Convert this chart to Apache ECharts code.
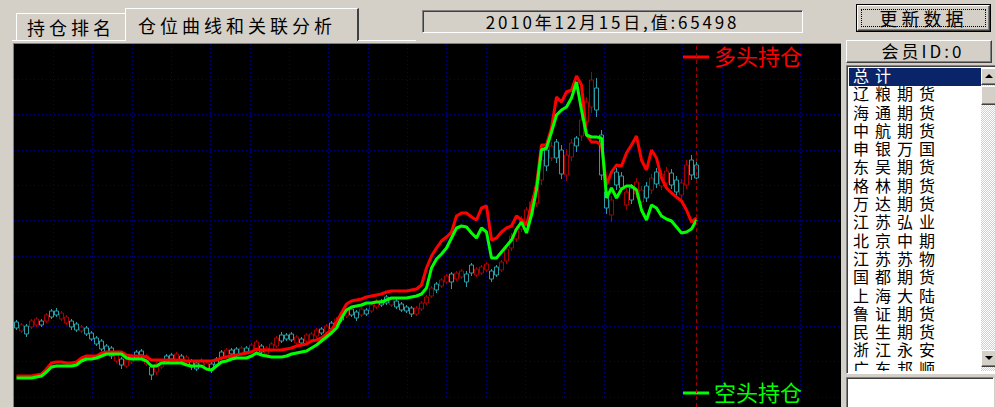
<!DOCTYPE html>
<html><head><meta charset="utf-8">
<script src="https://cdn.jsdelivr.net/npm/echarts@6/dist/echarts.min.js"></script>
<style>
html,body{margin:0;padding:0}
body{width:995px;height:407px;overflow:hidden;background:#d4d0c8;font-family:"Noto Sans CJK SC",sans-serif;position:relative;color:#000}
.a{position:absolute;box-sizing:border-box}
.raised{border-top:1px solid #fff;border-left:1px solid #fff;border-right:1px solid #404040;border-bottom:1px solid #404040;box-shadow:inset -1px -1px 0 #808080}
.sunken{border-top:1px solid #808080;border-left:1px solid #808080;border-right:1px solid #fff;border-bottom:1px solid #fff;box-shadow:inset 1px 1px 0 #404040}
.tab{font-size:18px;letter-spacing:4px;line-height:24px;white-space:nowrap}
#list div{height:18.3px;line-height:18.3px;font-family:"Liberation Sans","Noto Sans CJK SC",sans-serif;font-size:16px;letter-spacing:6px;padding-left:4px;white-space:nowrap;overflow:visible}
#list .sel{background:#0a246a;color:#fff}
.arrow{width:0;height:0;border-left:4px solid transparent;border-right:4px solid transparent;position:absolute;left:3px}
</style></head>
<body>
<!-- tabs -->
<div class="a tab" style="left:16px;top:13px;width:111px;height:28px;border-top:1px solid #fff;border-left:1px solid #fff;border-right:1px solid #404040;padding:1px 0 0 10px">持仓排名</div>
<div class="a tab" style="left:125px;top:8px;width:234px;height:33px;border-top:1px solid #fff;border-left:1px solid #fff;border-right:2px solid #404040;background:#d4d0c8;padding:4px 0 0 12px">仓位曲线和关联分析</div>
<div class="a" style="left:12px;top:40px;width:114px;height:1px;background:#fff"></div>
<div class="a" style="left:358px;top:40px;width:58px;height:1px;background:#fff"></div>
<!-- date box -->
<div class="a sunken" style="left:422px;top:10px;width:381px;height:23px;font-size:17px;letter-spacing:2.8px;line-height:21px;text-align:center;white-space:nowrap">2010年12月15日,值:65498</div>
<!-- button -->
<div class="a" style="left:856px;top:4px;width:135px;height:28px;border:1px solid #000;">
  <div class="a raised" style="left:0;top:0;width:133px;height:26px;"></div>
  <div class="a" style="left:4px;top:4px;width:125px;height:18px;border:1px dotted #000;font-size:18px;letter-spacing:4px;line-height:17px;text-align:center;white-space:nowrap">更新数据</div>
</div>
<!-- chart -->
<div class="a" style="left:13px;top:43px;width:828px;height:364px;border-left:1px solid #808080;border-top:1px solid #808080;background:#000"></div>
<div id="chart" class="a" style="left:14px;top:44px;width:826px;height:363px;"></div>
<!-- right panel -->
<div class="a raised" style="left:846px;top:40px;width:146px;height:23px;font-size:17px;letter-spacing:3px;line-height:20px;text-align:center;white-space:nowrap;padding-left:8px">会员ID:0</div>
<div class="a sunken" style="left:846px;top:65px;width:152px;height:309px;background:#fff;overflow:hidden">
  <div id="list" class="a" style="left:2px;top:2px;width:132px;height:303px;overflow:hidden"></div>
  <div class="a" style="left:134px;top:2px;width:16px;height:303px;background:repeating-conic-gradient(#fff 0 25%,#d4d0c8 0 50%) 0 0/2px 2px"></div>
  <div class="a raised" style="left:134px;top:2px;width:16px;height:17px;background:#d4d0c8"><div class="arrow" style="top:5px;border-bottom:4px solid #000"></div></div>
  <div class="a raised" style="left:134px;top:20px;width:16px;height:19px;background:#d4d0c8"></div>
  <div class="a raised" style="left:134px;top:284px;width:16px;height:17px;background:#d4d0c8"><div class="arrow" style="top:5px;border-top:4px solid #000"></div></div>
</div>
<div class="a sunken" style="left:846px;top:377px;width:148px;height:34px;background:#fff"></div>
<script>
// ---------- data ----------
const members = ['总计','辽粮期货','海通期货','中航期货','申银万国','东吴期货','格林期货','万达期货','江苏弘业','北京中期','江苏苏物','国都期货','上海大陆','鲁证期货','民生期货','浙江永安','广东邦顺'];
const legendNames = ['多头持仓','空头持仓'];
// long positions (多头持仓)
const longPos = [
 8400,8400,8400,8400,8800,9200,11200,13600,14000,14000,
 13600,13600,14000,15600,16400,16400,16400,17600,18000,18000,
 18000,18000,16800,16400,16400,16400,16000,14800,14800,14800,
 14800,14800,14800,14800,14400,14400,14400,14400,14400,14400,
 14800,15600,16000,16400,16800,17200,17600,18000,19200,18800,
 18800,18800,18800,18800,19200,19600,20400,20800,21200,22400,
 22800,23600,25200,26800,30000,33600,37200,38400,38800,39200,
 40000,40400,40800,41200,42000,42400,42400,42400,42400,42800,
 43200,44800,51600,56400,59600,62400,64000,66000,72400,73600,
 73600,72000,70800,75600,76400,62800,63600,66000,67600,68400,
 72400,70800,68800,76800,84800,100800,100800,107600,120000,118000,
 122000,122800,128400,124800,104800,102000,102000,100800,84800,90000,
 92800,92400,97600,100800,104400,94800,90800,98800,95600,87600,
 83600,81600,80000,78400,74800,70000,71600];
// short positions (空头持仓)
const shortPos = [
 7600,7600,7600,7600,8000,8400,10000,12000,12400,12400,
 12400,12400,12800,14400,15200,15200,15600,16400,17200,17200,
 17200,17200,15600,15200,15200,15200,14400,12400,12400,13600,
 13600,13600,13600,13600,12800,12400,12400,12400,11200,10800,
 12400,14000,14400,15200,15600,15600,15600,16400,17600,16800,
 16400,16000,16000,16000,16400,17200,17600,18000,18400,19600,
 20800,22400,24000,25600,27600,31600,34800,36000,36400,36800,
 37600,37600,38000,38000,38800,39600,39600,39600,39600,40000,
 40400,41200,43600,51600,55200,57200,59600,63600,67600,68400,
 68000,65600,63600,67600,66000,55600,55600,58000,60400,62800,
 67200,70000,65600,72800,82800,98800,99600,106000,112800,114800,
 116000,119600,126000,114800,104800,104000,104000,103600,79600,83600,
 79600,83200,84400,84400,82800,74800,70800,76800,75600,72400,
 71200,70400,68000,65600,66000,67200,70800];
// price candles
const priceOpen = [
 3750,3660,3710,3700,3720,3760,3760,3860,3860,3780,
 3740,3760,3730,3660,3690,3640,3590,3560,3510,3490,
 3360,3380,3310,3350,3450,3460,3330,3300,3250,3300,
 3410,3420,3370,3410,3340,3360,3340,3310,3280,3330,
 3380,3450,3410,3470,3480,3430,3490,3460,3470,3510,
 3430,3470,3510,3620,3620,3630,3540,3580,3560,3570,
 3610,3680,3650,3740,3720,3830,3810,3880,3850,3820,
 3870,3860,3900,3960,4000,3920,3960,3930,3900,3890,
 3830,3880,3940,4010,4130,4110,4150,4230,4180,4200,
 4230,4320,4220,4240,4270,4260,4300,4270,4360,4490,
 4580,4680,4750,4830,4940,5170,5470,5390,5550,5470,
 5220,5400,5590,5610,5750,5900,6090,5620,5050,4820,
 5250,5210,4920,5090,5030,4950,5110,5070,5250,5110,
 5140,5240,5170,5020,5120,5370,5320];
const priceClose = [
 3690,3720,3630,3760,3780,3720,3820,3800,3820,3840,
 3800,3700,3670,3700,3630,3580,3530,3480,3450,3410,
 3420,3320,3370,3410,3390,3420,3410,3220,3330,3360,
 3350,3380,3430,3370,3400,3300,3280,3370,3340,3270,
 3320,3390,3470,3430,3420,3490,3450,3520,3550,3450,
 3490,3530,3590,3560,3580,3570,3600,3540,3620,3630,
 3670,3640,3710,3680,3780,3770,3870,3820,3790,3880,
 3830,3920,3960,3920,3940,3980,3900,3870,3860,3830,
 3890,3940,4000,4090,4070,4170,4210,4150,4240,4260,
 4150,4240,4280,4300,4330,4180,4220,4350,4480,4610,
 4680,4780,4870,4950,5100,5370,5310,5510,5390,5230,
 5420,5540,5510,5770,5950,6170,5870,5220,4890,4970,
 5120,5090,5050,4970,5150,5070,4990,5190,5130,5230,
 5260,5120,5050,5140,5320,5220,5190];
const priceLow = [
 3670,3640,3600,3680,3700,3700,3740,3780,3800,3760,
 3720,3670,3650,3640,3610,3560,3510,3460,3430,3380,
 3340,3280,3290,3330,3370,3390,3310,3170,3220,3280,
 3330,3360,3350,3350,3320,3270,3260,3290,3260,3240,
 3300,3370,3390,3410,3400,3410,3430,3440,3450,3430,
 3410,3450,3490,3540,3560,3550,3520,3520,3540,3550,
 3590,3620,3630,3660,3700,3750,3790,3800,3760,3800,
 3810,3840,3880,3900,3920,3900,3880,3850,3840,3800,
 3810,3860,3920,3990,4040,4090,4130,4080,4160,4180,
 4100,4210,4200,4220,4250,4150,4200,4250,4330,4460,
 4550,4650,4720,4800,4900,5120,5260,5360,5340,5180,
 5160,5360,5450,5560,5700,5840,5800,5170,4830,4750,
 5070,5050,4870,4930,4990,4910,4950,5030,5090,5070,
 5100,5080,5010,4980,5080,5170,5150];
const priceHigh = [
 3770,3740,3730,3780,3800,3780,3840,3880,3890,3860,
 3820,3780,3750,3720,3710,3660,3610,3580,3530,3510,
 3440,3400,3390,3430,3470,3480,3430,3320,3350,3380,
 3430,3440,3450,3430,3420,3380,3360,3390,3360,3350,
 3400,3470,3490,3490,3500,3510,3510,3540,3570,3530,
 3510,3550,3610,3650,3640,3650,3620,3600,3640,3650,
 3690,3700,3730,3760,3800,3850,3890,3900,3870,3900,
 3890,3940,3980,3980,4020,4000,3980,3950,3920,3910,
 3910,3960,4020,4110,4150,4190,4230,4250,4260,4280,
 4260,4340,4300,4320,4350,4280,4320,4370,4500,4640,
 4710,4810,4900,4980,5140,5420,5500,5550,5580,5520,
 5480,5580,5610,5820,6000,6250,6190,5670,5090,5010,
 5290,5250,5090,5130,5190,5110,5150,5230,5290,5270,
 5300,5280,5210,5180,5370,5420,5370];
const categories = longPos.map((_, i) => 'T' + (i + 1));

// ---------- list ----------
const list = document.getElementById('list');
members.forEach((m, i) => { const d = document.createElement('div'); d.textContent = m; if (i === 0) d.className = 'sel'; list.appendChild(d); });

// ---------- chart ----------
const chart = echarts.init(document.getElementById('chart'), null, { renderer: 'svg' });
const gridLine = { show: true, lineStyle: { color: '#000080', width: 1, type: [1, 3] } };
const hidden = { axisLine: { show: false }, axisTick: { show: false }, axisLabel: { show: false } };
const legendBase = { orient: 'horizontal', padding: 0, itemWidth: 26, itemHeight: 3, icon: 'rect', selectedMode: false,
  textStyle: { fontSize: 22, fontFamily: '"Liberation Sans", "Noto Sans CJK SC"', lineHeight: 22 } };
chart.setOption({
  backgroundColor: '#000',
  animation: false,
  grid: [
    { left: 0, top: 0, width: 832, height: 353 },
    { left: 0, top: 0, width: 685, height: 363 }
  ],
  legend: [
    Object.assign({}, legendBase, { data: [legendNames[0]], left: 669, top: 2, textStyle: Object.assign({}, legendBase.textStyle, { color: '#ff0000' }) }),
    Object.assign({}, legendBase, { data: [legendNames[1]], left: 669, top: 338, textStyle: Object.assign({}, legendBase.textStyle, { color: '#00ff00' }) })
  ],
  xAxis: [
    Object.assign({ gridIndex: 0, type: 'value', min: 0, max: 21, interval: 1, splitLine: Object.assign({ showMinLine: false, showMaxLine: false }, gridLine) }, hidden),
    Object.assign({ gridIndex: 1, type: 'category', data: categories, boundaryGap: true, splitLine: { show: false } }, hidden)
  ],
  yAxis: [
    Object.assign({ gridIndex: 0, type: 'value', min: 0, max: 10, interval: 1, splitLine: Object.assign({ showMinLine: true, showMaxLine: false }, gridLine) }, hidden),
    Object.assign({ gridIndex: 1, type: 'value', min: -4000, max: 141200, splitLine: { show: false } }, hidden),
    Object.assign({ gridIndex: 1, type: 'value', min: 2900, max: 6530, splitLine: { show: false } }, hidden)
  ],
  series: [
    {
      name: '价格', type: 'candlestick', xAxisIndex: 1, yAxisIndex: 2, barWidth: 4,
      data: priceOpen.map((o, i) => [o, priceClose[i], priceLow[i], priceHigh[i]]),
      itemStyle: { color: '#000', color0: '#000', borderColor: '#a80000', borderColor0: '#2a9ea6', borderWidth: 1 }
    },
    {
      name: legendNames[0], type: 'line', xAxisIndex: 1, yAxisIndex: 1, data: longPos,
      symbol: 'none', color: '#ff0000', lineStyle: { color: '#ff0000', width: 3 },
      markLine: { silent: true, symbol: ['none', 'none'], label: { show: false },
        lineStyle: { color: '#a00000', type: [4, 3], width: 1 },
        data: [{ xAxis: categories.length - 1 }] }
    },
    {
      name: legendNames[1], type: 'line', xAxisIndex: 1, yAxisIndex: 1, data: shortPos,
      symbol: 'none', color: '#00ff00', lineStyle: { color: '#00ff00', width: 3 }
    }
  ]
});
</script>
</body></html>
